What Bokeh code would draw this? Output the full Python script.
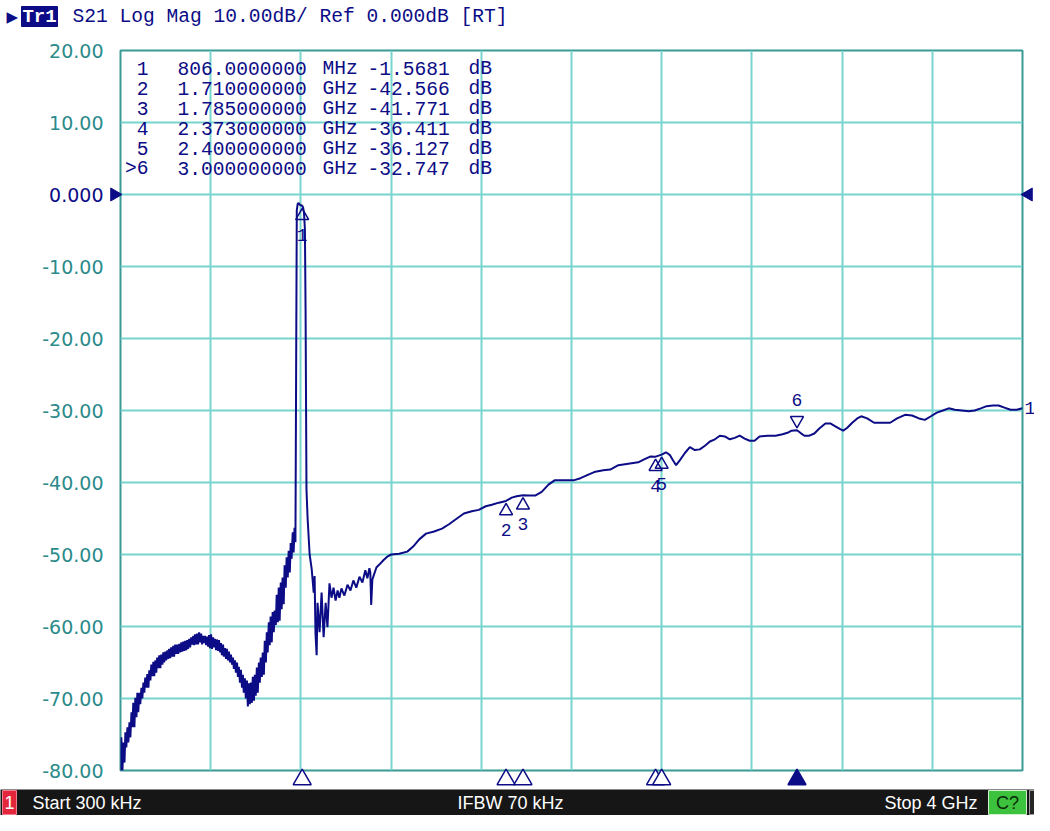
from bokeh.plotting import figure
from bokeh.models import Range1d, FixedTicker, PrintfTickFormatter, Label, LabelSet, ColumnDataSource
from bokeh.embed import file_html
from bokeh.resources import INLINE
from bokeh.core.properties import value

# ---------------- data ----------------
freq_mhz = [
    0.3, 4, 9, 13, 18, 22, 26, 31, 35, 40,
    44, 49, 53, 57, 62, 66, 71, 75, 79, 84,
    88, 93, 97, 102, 106, 110, 115, 119, 124, 128,
    133, 137, 142, 146, 150, 155, 159, 163, 168, 172,
    177, 181, 186, 190, 194, 199, 203, 208, 212, 216,
    221, 225, 230, 234, 238, 243, 247, 252, 256, 261,
    265, 270, 274, 279, 283, 287, 292, 296, 300, 305,
    309, 314, 318, 323, 327, 331, 336, 340, 344, 349,
    353, 358, 362, 366, 371, 375, 380, 384, 389, 393,
    397, 402, 406, 411, 415, 419, 424, 428, 433, 437,
    442, 446, 450, 455, 459, 464, 468, 472, 477, 481,
    486, 490, 495, 499, 503, 508, 512, 517, 521, 525,
    530, 534, 539, 543, 547, 552, 556, 561, 565, 569,
    574, 578, 583, 587, 592, 596, 600, 605, 609, 614,
    618, 622, 627, 631, 636, 640, 645, 649, 653, 658,
    662, 666, 671, 675, 680, 684, 689, 693, 698, 702,
    706, 711, 715, 719, 724, 728, 733, 737, 742, 746,
    751, 755, 759, 764, 768, 772, 776, 779, 782, 786,
    790, 795, 800, 806, 810, 814, 818, 821, 825, 830,
    839, 848, 857, 861, 865, 870, 874, 883, 892, 901,
    910, 918, 927, 936, 945, 954, 963, 971, 980, 993,
    1007, 1020, 1033, 1046, 1060, 1073, 1086, 1095, 1104, 1108,
    1112, 1117, 1121, 1135, 1148, 1166, 1183, 1201, 1236, 1272,
    1298, 1325, 1355, 1391, 1426, 1457, 1492, 1523, 1558, 1589,
    1620, 1647, 1678, 1710, 1735, 1757, 1785, 1810, 1841, 1868,
    1898, 1925, 1965, 2009, 2040, 2075, 2106, 2141, 2172, 2208,
    2252, 2296, 2322, 2349, 2373, 2400, 2419, 2437, 2450, 2464,
    2481, 2503, 2525, 2547, 2569, 2592, 2614, 2636, 2658, 2680,
    2702, 2724, 2746, 2768, 2790, 2812, 2834, 2870, 2905, 2936,
    2958, 2976, 3000, 3015, 3033, 3055, 3077, 3099, 3126, 3148,
    3170, 3192, 3205, 3223, 3245, 3267, 3285, 3311, 3342, 3377,
    3413, 3444, 3479, 3510, 3541, 3567, 3594, 3620, 3647, 3673,
    3700, 3731, 3762, 3788, 3815, 3841, 3868, 3894, 3920, 3947,
    3974, 4000,
]
s21_db = [
    -80.6, -75.4, -80.0, -76.1, -78.9, -74.7, -76.8, -74.0, -76.1, -73.3,
    -75.4, -71.9, -74.0, -70.6, -74.0, -69.9, -72.6, -69.2, -71.9, -69.2,
    -70.8, -68.5, -70.0, -67.8, -69.2, -67.1, -68.5, -66.6, -68.5, -66.1,
    -67.5, -65.3, -66.9, -64.9, -66.9, -64.7, -66.4, -64.3, -65.8, -64.0,
    -65.8, -63.9, -65.3, -63.6, -65.0, -63.5, -64.7, -63.3, -64.5, -63.1,
    -64.4, -62.9, -64.2, -62.7, -64.2, -62.5, -63.8, -62.5, -63.8, -62.4,
    -63.6, -62.2, -63.5, -62.1, -63.4, -62.0, -63.3, -61.9, -63.1, -61.7,
    -62.9, -61.5, -62.5, -61.3, -62.6, -61.1, -62.5, -61.0, -62.5, -60.8,
    -62.2, -61.0, -62.5, -61.3, -62.3, -61.3, -62.6, -61.4, -62.8, -61.2,
    -63.0, -61.1, -63.1, -61.5, -62.9, -61.7, -63.3, -61.8, -63.4, -61.9,
    -63.6, -62.3, -64.0, -62.5, -64.2, -63.0, -64.5, -63.1, -64.7, -63.5,
    -65.0, -63.9, -65.3, -64.3, -65.9, -64.7, -66.4, -65.0, -67.0, -65.6,
    -67.8, -66.0, -68.5, -66.7, -69.2, -67.2, -70.0, -67.5, -71.1, -67.9,
    -70.8, -67.8, -70.6, -67.0, -70.3, -66.7, -69.6, -65.7, -69.2, -65.0,
    -67.8, -64.3, -67.0, -63.6, -66.7, -62.0, -65.0, -60.8, -63.6, -59.4,
    -62.6, -58.6, -62.2, -58.0, -60.8, -57.8, -59.8, -55.6, -59.4, -54.6,
    -59.2, -53.9, -57.6, -53.2, -56.9, -51.5, -54.6, -50.4, -53.2, -49.5,
    -52.5, -48.4, -50.6, -46.9, -49.7, -46.3, -48.3, -25.0, -2.2, -1.3,
    -1.2, -1.4, -1.5, -1.568, -1.8, -2.6, -4.8, -16.0, -41.0, -45.0,
    -50.0, -52.0, -55.3, -53.0, -61.0, -64.0, -56.7, -60.8, -55.3, -61.5,
    -56.7, -60.1, -54.0, -56.0, -54.6, -56.4, -55.0, -56.0, -54.7, -55.7,
    -54.2, -55.0, -53.6, -54.6, -53.1, -53.9, -52.2, -53.3, -51.9, -52.5,
    -57.0, -53.5, -53.1, -51.8, -51.4, -50.8, -50.3, -50.0, -49.9, -49.6,
    -48.9, -47.9, -47.1, -46.8, -46.4, -45.8, -45.0, -44.3, -44.0, -43.8,
    -43.3, -43.1, -42.8, -42.566, -42.1, -41.9, -41.771, -41.8, -41.8, -41.3,
    -40.3, -39.7, -39.7, -39.7, -39.4, -38.9, -38.5, -38.3, -38.2, -37.6,
    -37.4, -37.2, -36.8, -36.4, -36.411, -36.127, -35.8, -36.2, -36.9, -37.6,
    -36.9, -35.9, -35.1, -35.5, -35.4, -34.9, -34.3, -34.0, -33.5, -33.6,
    -34.0, -33.8, -33.5, -33.9, -34.2, -34.2, -33.6, -33.5, -33.5, -33.3,
    -33.1, -32.8, -32.747, -33.1, -33.5, -33.5, -33.2, -32.5, -31.8, -31.8,
    -32.2, -32.6, -32.8, -32.4, -31.7, -31.1, -30.8, -31.1, -31.7, -31.7,
    -31.7, -31.1, -30.6, -30.7, -31.1, -31.3, -30.8, -30.3, -30.0, -29.7,
    -29.9, -30.0, -30.1, -30.0, -29.7, -29.4, -29.3, -29.3, -29.6, -29.9,
    -29.9, -29.7,
]

marker_ids = ["1", "2", "3", "4", "5", "6"]
marker_freq_mhz = [806.0, 1710.0, 1785.0, 2373.0, 2400.0, 3000.0]
marker_db = [-1.5681, -42.566, -41.771, -36.411, -36.127, -32.747]
marker_freq_text = ["806.0000000", "1.710000000", "1.785000000", "2.373000000", "2.400000000", "3.000000000"]
marker_unit_text = ["MHz", "GHz", "GHz", "GHz", "GHz", "GHz"]
marker_db_text = ["-1.5681", "-42.566", "-41.771", "-36.411", "-36.127", "-32.747"]
active_marker = "6"

y_ticks = [20, 10, 0, -10, -20, -30, -40, -50, -60, -70, -80]
ref_level_db = 0.0
ref_level_text = "0.000"
f_start_mhz, f_stop_mhz = 0.3, 4000.0
x_divisions = 10

header_text = "S21 Log Mag 10.00dB/ Ref 0.000dB [RT]"
trace_tag = "Tr1"
status_start = "Start 300 kHz"
status_ifbw = "IFBW 70 kHz"
status_stop = "Stop 4 GHz"
status_channel = "1"
status_cal = "C?"

# ---------------- styles / layout ----------------
NAVY = "#0c0c86"
TEAL_TXT = "#2b8b8b"
GRID = "#78d4ce"
FRAME = "#3a9a96"
MONO = "Liberation Mono"
SANS = "DejaVu Sans"
STAT = "Liberation Sans"
MONO_SIZE = "19.6px"

W, H = 1034, 815
B_LEFT, B_RIGHT, B_TOP, B_BOTTOM = 120, 12, 50, 45
FRAME_W = W - B_LEFT - B_RIGHT
FRAME_H = H - B_TOP - B_BOTTOM
y_lo, y_hi = y_ticks[-1], y_ticks[0]
PX_PER_DB = FRAME_H / (y_hi - y_lo)
MHZ_PER_PX = (f_stop_mhz - f_start_mhz) / FRAME_W


def fx(px):
    """canvas pixel column -> MHz on the plot's x scale"""
    return f_start_mhz + (px - B_LEFT) * MHZ_PER_PX


def fy(py):
    """canvas pixel row -> dB on the plot's y scale"""
    return y_hi - (py - B_TOP) / PX_PER_DB


p = figure(width=W, height=H, x_range=Range1d(f_start_mhz, f_stop_mhz), y_range=Range1d(y_lo, y_hi),
           output_backend="svg", toolbar_location=None,
           min_border_left=B_LEFT, min_border_right=B_RIGHT, min_border_top=B_TOP, min_border_bottom=B_BOTTOM,
           background_fill_color="white", border_fill_color="white")

p.outline_line_color = FRAME
p.outline_line_width = 2

p.xaxis.visible = False
step = (f_stop_mhz - f_start_mhz) / x_divisions
p.xgrid.ticker = FixedTicker(ticks=[f_start_mhz + i * step for i in range(1, x_divisions)])
p.ygrid.ticker = FixedTicker(ticks=y_ticks[1:-1])
for g in (p.xgrid, p.ygrid):
    g.grid_line_color = GRID
    g.grid_line_width = 2

ax = p.yaxis[0]
ax.ticker = FixedTicker(ticks=y_ticks)
ax.formatter = PrintfTickFormatter(format="%.2f")
ax.major_label_overrides = {0: " "}
ax.axis_line_color = None
ax.major_tick_line_color = None
ax.minor_tick_line_color = None
ax.major_tick_in = 0
ax.major_tick_out = 0
ax.major_label_standoff = 17
ax.major_label_text_color = TEAL_TXT
ax.major_label_text_font = SANS
ax.major_label_text_font_size = "19px"

OV = dict(level="overlay")

# reference level label and arrows (outside the grid)
p.text(x=[fx(B_LEFT - 17)], y=[ref_level_db], text=[ref_level_text], text_align="right", text_baseline="middle",
       text_color=NAVY, text_font=value(SANS), text_font_size="19px", **OV)
p.scatter(x=[fx(B_LEFT - 6)], y=[ref_level_db], marker="triangle", angle=-1.5708, size=13,
          fill_color=NAVY, line_color=NAVY, **OV)
p.scatter(x=[fx(B_LEFT + FRAME_W + 6)], y=[ref_level_db], marker="triangle", angle=1.5708, size=13,
          fill_color=NAVY, line_color=NAVY, **OV)

# trace
p.line(freq_mhz, s21_db, line_color=NAVY, line_width=2)
p.text(x=[fx(B_LEFT + FRAME_W + 2)], y=[s21_db[-1]], text=["1"], text_align="left", text_baseline="middle",
       text_color=NAVY, text_font=value(MONO), text_font_size="18px", **OV)

# markers on the trace
below = [i for i, m in enumerate(marker_ids) if m != active_marker]
above = [i for i, m in enumerate(marker_ids) if m == active_marker]
tri_off = 10 / PX_PER_DB
p.scatter([marker_freq_mhz[i] for i in below], [marker_db[i] - tri_off for i in below],
          marker="triangle", size=13, line_color=NAVY, line_width=1.5, fill_alpha=0)
p.scatter([marker_freq_mhz[i] for i in above], [marker_db[i] + tri_off for i in above],
          marker="inverted_triangle", size=13, line_color=NAVY, line_width=1.5, fill_alpha=0)

src_below = ColumnDataSource(dict(x=[marker_freq_mhz[i] for i in below], y=[marker_db[i] for i in below],
                                  t=[marker_ids[i] for i in below]))
src_above = ColumnDataSource(dict(x=[marker_freq_mhz[i] for i in above], y=[marker_db[i] for i in above],
                                  t=[marker_ids[i] for i in above]))
p.add_layout(LabelSet(x="x", y="y", text="t", source=src_below, y_offset=-29, text_align="center",
                      text_baseline="middle", text_color=NAVY, text_font=value(MONO), text_font_size="18px"))
p.add_layout(LabelSet(x="x", y="y", text="t", source=src_above, y_offset=30, text_align="center",
                      text_baseline="middle", text_color=NAVY, text_font=value(MONO), text_font_size="18px"))

# marker position indicators below the grid
ind_y = fy(B_TOP + FRAME_H + 9)
p.scatter([marker_freq_mhz[i] for i in below], [ind_y] * len(below), marker="triangle", size=18,
          line_color=NAVY, line_width=1.5, fill_color="white", **OV)
p.scatter([marker_freq_mhz[i] for i in above], [ind_y] * len(above), marker="triangle", size=18,
          line_color=NAVY, line_width=1.5, fill_color=NAVY, **OV)

# marker table
COL_NUM, COL_FREQ, COL_UNIT, COL_VAL, COL_DB = 28, 57, 202, 247, 348
for i, m in enumerate(marker_ids):
    dy = -(18 + 20 * i)
    cells = [((">" if m == active_marker else "") + m, COL_NUM, "right"),
             (marker_freq_text[i], COL_FREQ, "left"),
             (marker_unit_text[i], COL_UNIT, "left"),
             (marker_db_text[i], COL_VAL, "left"),
             ("dB", COL_DB, "left")]
    for txt, dx, al in cells:
        p.add_layout(Label(x=f_start_mhz, y=y_hi, text=txt, x_offset=dx, y_offset=dy, text_align=al,
                           text_baseline="middle", text_color=NAVY, text_font=MONO, text_font_size=MONO_SIZE))

# header line (above the grid)
hy = fy(16)
p.text(x=[fx(6)], y=[hy], text=["▶"], text_align="left", text_baseline="middle", text_color=NAVY,
       text_font=value(SANS), text_font_size="15px", **OV)
p.quad(left=[fx(21)], right=[fx(57)], top=[fy(6)], bottom=[fy(26)], fill_color=NAVY, line_color=NAVY, **OV)
p.text(x=[fx(39)], y=[hy], text=[trace_tag], text_align="center", text_baseline="middle", text_color="white",
       text_font=value(MONO), text_font_style="bold", text_font_size="19px", **OV)
p.text(x=[fx(72)], y=[hy], text=[header_text], text_align="left", text_baseline="middle", text_color=NAVY,
       text_font=value(MONO), text_font_size=MONO_SIZE, **OV)

# ---------------- status bar (bottom strip) ----------------
SB_TOP = H - 26
sb_mid = fy((SB_TOP + H) / 2)
p.quad(left=[fx(0)], right=[fx(W)], top=[fy(SB_TOP)], bottom=[fy(H)], fill_color="#161616", line_color=None, **OV)
p.quad(left=[fx(2)], right=[fx(16)], top=[fy(SB_TOP + 1)], bottom=[fy(H - 1)], fill_color="#e3263c",
       line_color="#f08090", **OV)
p.quad(left=[fx(988)], right=[fx(1026)], top=[fy(SB_TOP + 1)], bottom=[fy(H - 1)], fill_color="#3cc23c",
       line_color="#d0f0d0", **OV)
p.quad(left=[fx(1029)], right=[fx(1040)], top=[fy(SB_TOP + 1)], bottom=[fy(H - 1)], fill_color="#262626",
       line_color="#9a9a9a", **OV)
for txt, xx, al, col in [(status_channel, 9, "center", "white"), (status_start, 32, "left", "white"),
                         (status_ifbw, 510, "center", "white"), (status_stop, 977, "right", "white"),
                         (status_cal, 1007, "center", "#0a2a0a")]:
    p.text(x=[fx(xx)], y=[sb_mid], text=[txt], text_align=al, text_baseline="middle", text_color=col,
           text_font=value(STAT), text_font_size="18px", **OV)

open("out.html", "w").write(file_html(p, INLINE))
